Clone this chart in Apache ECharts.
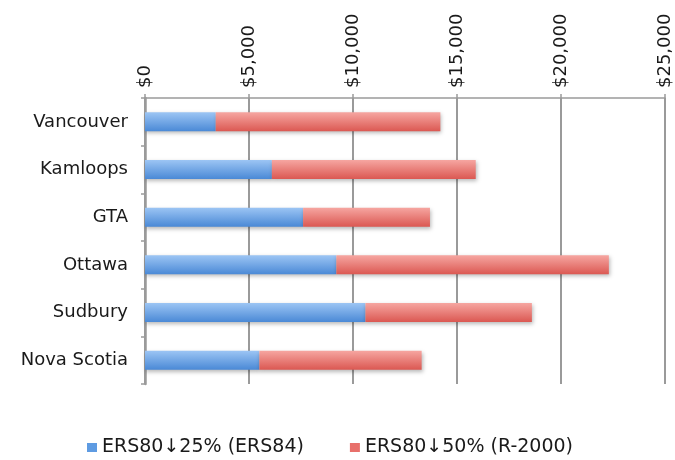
<!DOCTYPE html>
<html>
<head>
<meta charset="utf-8">
<script src="https://cdn.jsdelivr.net/npm/echarts@6/dist/echarts.min.js"></script>
<style>
  html, body { margin: 0; padding: 0; background: #fff; }
  #chart { width: 675px; height: 460px; }
</style>
</head>
<body>
<div id="chart"></div>
<script>
// Regions, top to bottom
const regions = ['Vancouver', 'Kamloops', 'GTA', 'Ottawa', 'Sudbury', 'Nova Scotia'];
// Cost to reach ERS80 minus 25% (ERS84)
const ers84Cost = [3400, 6100, 7600, 9200, 10600, 5500];
// Additional cost to reach ERS80 minus 50% (R-2000), stacked on the first
const r2000Extra = [10800, 9800, 6100, 13100, 8000, 7800];
// Value axis ticks
const tickValues = [0, 5000, 10000, 15000, 20000, 25000];

const seriesNames = ['ERS80\u219325% (ERS84)', 'ERS80\u219350% (R-2000)'];
const FONT = 'DejaVu Sans';
const GRAY = '#9a9a9a';

function vGrad(top, bottom) {
  return new echarts.graphic.LinearGradient(0, 0, 0, 1, [
    { offset: 0, color: top },
    { offset: 1, color: bottom }
  ]);
}

const barShadow = {
  shadowColor: 'rgba(0,0,0,0.28)',
  shadowBlur: 4,
  shadowOffsetX: 1,
  shadowOffsetY: 2
};

const chart = echarts.init(document.getElementById('chart'), null, { renderer: 'canvas' });

chart.setOption({
  animation: false,
  backgroundColor: '#ffffff',
  grid: { left: 145, right: 10, top: 98, bottom: 76 },
  legend: {
    left: 82,
    top: 433,
    itemWidth: 10,
    itemHeight: 9,
    itemGap: 46,
    icon: 'rect',
    textStyle: { fontFamily: FONT, fontSize: 19, color: '#1a1a1a' },
    data: [
      { name: seriesNames[0], itemStyle: { color: '#5e9be2' } },
      { name: seriesNames[1], itemStyle: { color: '#e8706b' } }
    ]
  },
  xAxis: {
    type: 'value',
    position: 'top',
    min: tickValues[0],
    max: tickValues[tickValues.length - 1],
    interval: tickValues[1] - tickValues[0],
    axisLine: { show: true, lineStyle: { color: GRAY, width: 1.5 } },
    axisTick: { show: true, length: 4, lineStyle: { color: GRAY, width: 1.5 } },
    splitLine: { show: true, lineStyle: { color: GRAY, width: 2 } },
    axisLabel: {
      rotate: -90,
      margin: 10,
      fontFamily: FONT,
      fontSize: 18,
      color: '#1a1a1a',
      formatter: v => '$' + v.toLocaleString('en-US')
    }
  },
  yAxis: {
    type: 'category',
    inverse: true,
    data: regions,
    axisLine: { show: true, lineStyle: { color: GRAY, width: 2.5 } },
    axisTick: { show: true, length: 4, inside: false, lineStyle: { color: GRAY, width: 1.5 } },
    axisLabel: {
      margin: 17,
      fontFamily: FONT,
      fontSize: 18,
      color: '#1a1a1a'
    }
  },
  series: [
    {
      name: seriesNames[0],
      type: 'bar',
      stack: 'cost',
      barWidth: 19,
      data: ers84Cost,
      itemStyle: Object.assign({ color: vGrad('#9cc5f4', '#4a89d6') }, barShadow)
    },
    {
      name: seriesNames[1],
      type: 'bar',
      stack: 'cost',
      barWidth: 19,
      data: r2000Extra,
      itemStyle: Object.assign({ color: vGrad('#f6a6a1', '#db5852') }, barShadow)
    }
  ]
});
</script>
</body>
</html>
